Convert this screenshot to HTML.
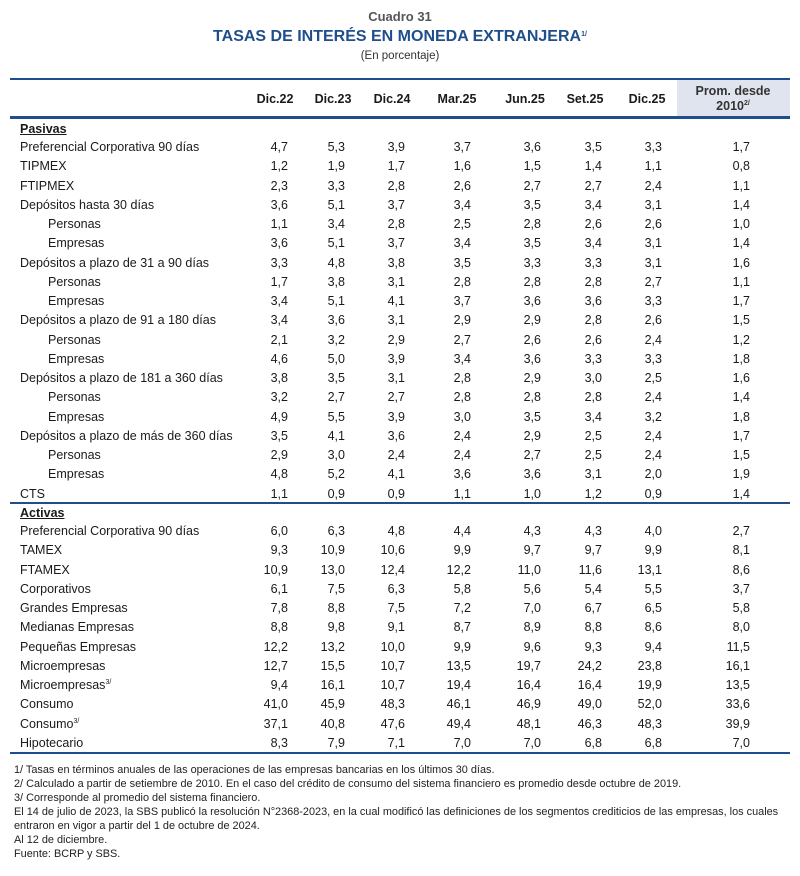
<!DOCTYPE html>
<html><head><meta charset="utf-8"><style>
body{margin:0;width:800px;height:876px;background:#fff;font-family:"Liberation Sans",sans-serif;color:#1a1a1a;position:relative;overflow:hidden}
.a{position:absolute;white-space:nowrap}
.t{font-size:12.5px;line-height:16px}
.n{position:absolute;font-size:12.5px;line-height:16px;text-align:right;width:60px}
.h{font-weight:bold;font-size:12.5px;position:absolute;text-align:center;width:70px}
.line{position:absolute;left:10px;width:780px;height:2px;background:#1f4e8c}
.f{position:absolute;left:14px;font-size:10.9px;line-height:13px;white-space:nowrap;color:#222}
sup{font-size:7px;line-height:0;vertical-align:5px}
</style></head><body>
<div class="a" style="left:0;width:800px;text-align:center;top:9px;font-size:13px;font-weight:bold;color:#555">Cuadro 31</div>
<div class="a" style="left:0;width:800px;text-align:center;top:28px;font-size:16px;font-weight:bold;color:#1f4e8c">TASAS DE INTERÉS EN MONEDA EXTRANJERA<sup>1/</sup></div>
<div class="a" style="left:0;width:800px;text-align:center;top:50px;font-size:11.5px;color:#333">(En porcentaje)</div>
<div style="position:absolute;left:677px;top:80px;width:113px;height:37px;background:#e0e4ee"></div>
<div class="line" style="top:78px"></div>
<div class="line" style="top:116px;height:2.5px"></div>
<div class="h" style="left:240px;top:92px">Dic.22</div>
<div class="h" style="left:298px;top:92px">Dic.23</div>
<div class="h" style="left:357px;top:92px">Dic.24</div>
<div class="h" style="left:422px;top:92px">Mar.25</div>
<div class="h" style="left:490px;top:92px">Jun.25</div>
<div class="h" style="left:550px;top:92px">Set.25</div>
<div class="h" style="left:612px;top:92px">Dic.25</div>
<div class="h" style="left:678px;top:84px;width:110px;color:#333;line-height:15px">Prom. desde<br>2010<sup>2/</sup></div>
<div id="rows"></div>
<div class="line" style="top:502px;height:1.5px"></div>
<div class="line" style="top:752px;height:1.5px"></div>
<div class="f" style="top:764px">1/ Tasas en términos anuales de las operaciones de las empresas bancarias en los últimos 30 días.</div>
<div class="f" style="top:778px">2/ Calculado a partir de setiembre de 2010. En el caso del crédito de consumo del sistema financiero es promedio desde octubre de 2019.</div>
<div class="f" style="top:792px">3/ Corresponde al promedio del sistema financiero.</div>
<div class="f" style="top:806px">El 14 de julio de 2023, la SBS publicó la resolución N°2368-2023, en la cual modificó las definiciones de los segmentos crediticios de las empresas, los cuales</div>
<div class="f" style="top:820px">entraron en vigor a partir del 1 de octubre de 2024.</div>
<div class="f" style="top:834px">Al 12 de diciembre.</div>
<div class="f" style="top:848px">Fuente: BCRP y SBS.</div>
<script>
var P=[["Preferencial Corporativa 90 días",0,"4,7 5,3 3,9 3,7 3,6 3,5 3,3 1,7"],["TIPMEX",0,"1,2 1,9 1,7 1,6 1,5 1,4 1,1 0,8"],["FTIPMEX",0,"2,3 3,3 2,8 2,6 2,7 2,7 2,4 1,1"],["Depósitos hasta 30 días",0,"3,6 5,1 3,7 3,4 3,5 3,4 3,1 1,4"],["Personas",1,"1,1 3,4 2,8 2,5 2,8 2,6 2,6 1,0"],["Empresas",1,"3,6 5,1 3,7 3,4 3,5 3,4 3,1 1,4"],["Depósitos a plazo de 31 a 90 días",0,"3,3 4,8 3,8 3,5 3,3 3,3 3,1 1,6"],["Personas",1,"1,7 3,8 3,1 2,8 2,8 2,8 2,7 1,1"],["Empresas",1,"3,4 5,1 4,1 3,7 3,6 3,6 3,3 1,7"],["Depósitos a plazo de 91 a 180 días",0,"3,4 3,6 3,1 2,9 2,9 2,8 2,6 1,5"],["Personas",1,"2,1 3,2 2,9 2,7 2,6 2,6 2,4 1,2"],["Empresas",1,"4,6 5,0 3,9 3,4 3,6 3,3 3,3 1,8"],["Depósitos a plazo de 181 a 360 días",0,"3,8 3,5 3,1 2,8 2,9 3,0 2,5 1,6"],["Personas",1,"3,2 2,7 2,7 2,8 2,8 2,8 2,4 1,4"],["Empresas",1,"4,9 5,5 3,9 3,0 3,5 3,4 3,2 1,8"],["Depósitos a plazo de más de 360 días",0,"3,5 4,1 3,6 2,4 2,9 2,5 2,4 1,7"],["Personas",1,"2,9 3,0 2,4 2,4 2,7 2,5 2,4 1,5"],["Empresas",1,"4,8 5,2 4,1 3,6 3,6 3,1 2,0 1,9"],["CTS",0,"1,1 0,9 0,9 1,1 1,0 1,2 0,9 1,4"]];
var A=[["Preferencial Corporativa 90 días",0,"6,0 6,3 4,8 4,4 4,3 4,3 4,0 2,7"],["TAMEX",0,"9,3 10,9 10,6 9,9 9,7 9,7 9,9 8,1"],["FTAMEX",0,"10,9 13,0 12,4 12,2 11,0 11,6 13,1 8,6"],["Corporativos",0,"6,1 7,5 6,3 5,8 5,6 5,4 5,5 3,7"],["Grandes Empresas",0,"7,8 8,8 7,5 7,2 7,0 6,7 6,5 5,8"],["Medianas Empresas",0,"8,8 9,8 9,1 8,7 8,9 8,8 8,6 8,0"],["Pequeñas Empresas",0,"12,2 13,2 10,0 9,9 9,6 9,3 9,4 11,5"],["Microempresas",0,"12,7 15,5 10,7 13,5 19,7 24,2 23,8 16,1"],["Microempresas<sup>3/</sup>",0,"9,4 16,1 10,7 19,4 16,4 16,4 19,9 13,5"],["Consumo",0,"41,0 45,9 48,3 46,1 46,9 49,0 52,0 33,6"],["Consumo<sup>3/</sup>",0,"37,1 40,8 47,6 49,4 48,1 46,3 48,3 39,9"],["Hipotecario",0,"8,3 7,9 7,1 7,0 7,0 6,8 6,8 7,0"]];
var R=[288,345,405,471,541,602,662,750],h="";
function sec(title,y0,rows){h+='<div class="a t" style="left:20px;top:'+(y0-26)+'px;font-weight:bold;text-decoration:underline">'+title+'</div>';
rows.forEach(function(r,i){var y=y0+i*19.25-8;h+='<div class="a t" style="left:'+(r[1]?48:20)+'px;top:'+y+'px">'+r[0]+'</div>';
r[2].split(" ").forEach(function(v,j){h+='<div class="n" style="left:'+(R[j]-60)+'px;top:'+y+'px">'+v+'</div>'});});}
sec("Pasivas",147,P);sec("Activas",531,A);
document.getElementById("rows").innerHTML=h;
</script>
</body></html>
